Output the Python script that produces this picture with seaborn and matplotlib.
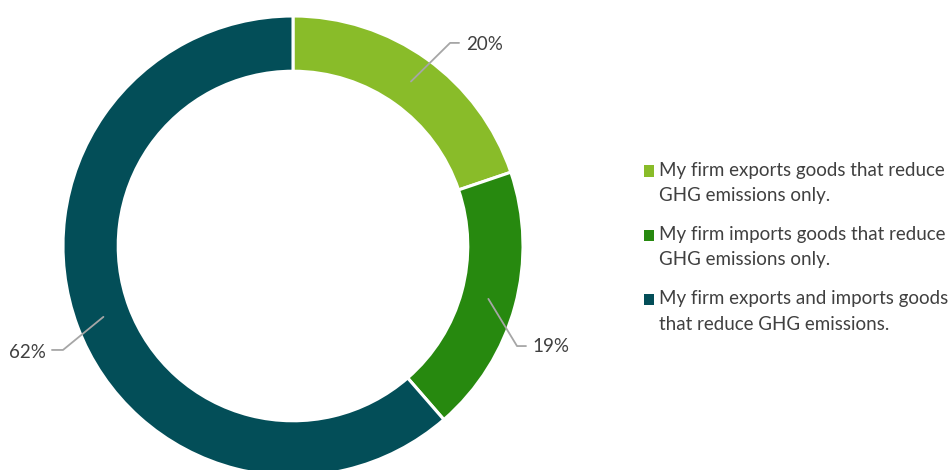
import numpy as np
import matplotlib
matplotlib.use("Agg")
import matplotlib.pyplot as plt
from matplotlib.patches import Patch, Rectangle
from matplotlib.legend_handler import HandlerPatch
import seaborn as sns

# Share of firms by direction of trade in goods that reduce GHG emissions
categories = [
    "My firm exports goods that reduce\nGHG emissions only.",
    "My firm imports goods that reduce\nGHG emissions only.",
    "My firm exports and imports goods\nthat reduce GHG emissions.",
]
values = [20, 19, 62]
value_labels = ["20%", "19%", "62%"]
colors = ["#89BC29", "#27890F", "#034E58"]

sns.set_theme(style="white")
plt.rcParams["font.family"] = ["Lato", "DejaVu Sans"]
text_color = "#404040"
FS = 13.5
LINE_SPACING = 1.58

fig = plt.figure(figsize=(9.5, 4.7), dpi=100)
W, H = 950, 470
cx, cy, R = 293, 246, 230
ax = fig.add_axes([(cx - R) / W, (H - cy - R) / H, 2 * R / W, 2 * R / H])

wedges, _ = ax.pie(
    values,
    colors=colors,
    startangle=90,
    counterclock=False,
    radius=1.0,
    wedgeprops=dict(width=0.24, edgecolor="white", linewidth=2.2),
)
ax.set_xlim(-1, 1)
ax.set_ylim(-1, 1)
ax.set_aspect("equal")
ax.axis("off")

# Label layout: elbow point, line end, text anchor (data units of the pie axes)
label_layout = [
    dict(elbow=(0.683, 0.883), end=(0.722, 0.883), text=(0.752, 0.874), ha="left"),
    dict(elbow=(0.974, -0.435), end=(1.013, -0.435), text=(1.043, -0.439), ha="left"),
    dict(elbow=(-1.0, -0.452), end=(-1.048, -0.452), text=(-1.074, -0.461), ha="right"),
]

for w, lab, lay in zip(wedges, value_labels, label_layout):
    mid = np.deg2rad((w.theta1 + w.theta2) / 2)
    start = (0.88 * np.cos(mid), 0.88 * np.sin(mid))
    xs = [start[0], lay["elbow"][0], lay["end"][0]]
    ys = [start[1], lay["elbow"][1], lay["end"][1]]
    ax.plot(xs, ys, color="#A6A6A6", linewidth=1.3, clip_on=False, zorder=5)
    ax.text(lay["text"][0], lay["text"][1], lab, ha=lay["ha"], va="center",
            fontsize=FS, color=text_color, clip_on=False)


# Legend square sits beside the first line of a two-line label
def top_line_square(legend, orig_handle, xdescent, ydescent, width, height, fontsize):
    shift = 9.0  # half the baseline-to-baseline distance, in points
    return Rectangle((-xdescent, -ydescent + shift), width, height)


handles = [Patch(facecolor=c, edgecolor="none") for c in colors]
leg = fig.legend(
    handles, categories,
    loc="upper left",
    bbox_to_anchor=(644 / W, 1 - 162 / H),
    frameon=False,
    fontsize=FS,
    handlelength=0.55,
    handleheight=0.55,
    handletextpad=0.25,
    labelspacing=1.18,
    borderaxespad=0,
    borderpad=0,
    handler_map={Patch: HandlerPatch(patch_func=top_line_square)},
)
for t in leg.get_texts():
    t.set_color(text_color)
    t.set_linespacing(LINE_SPACING)

fig.savefig("out.png", dpi=100)
